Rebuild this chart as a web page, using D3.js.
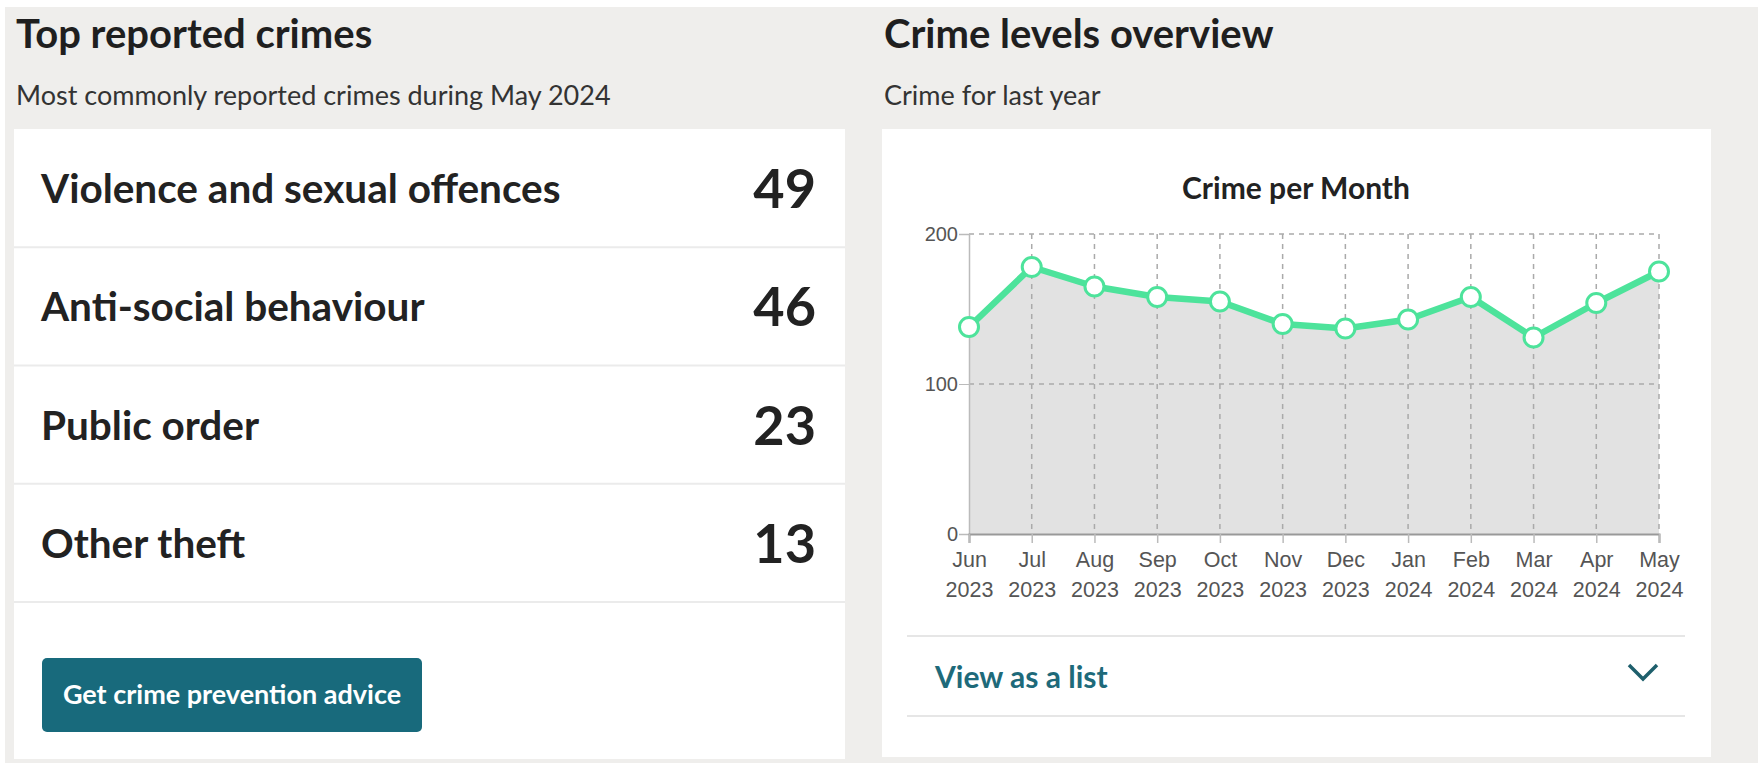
<!DOCTYPE html>
<html>
<head>
<meta charset="utf-8">
<script src="https://cdn.jsdelivr.net/npm/d3@7"></script>
<style>
  html, body { margin:0; padding:0; background:#fff; }
  svg { display:block; }
</style>
</head>
<body>
<div id="plot"></div>
<script>
// data
var crimeTypes = ['Violence and sexual offences','Anti-social behaviour','Public order','Other theft'];
var crimeCounts = [49, 46, 23, 13];

var months = ['Jun','Jul','Aug','Sep','Oct','Nov','Dec','Jan','Feb','Mar','Apr','May'];
var years = ['2023','2023','2023','2023','2023','2023','2023','2024','2024','2024','2024','2024'];
var monthlyTotals = [138, 178, 165, 158, 155, 140, 137, 143, 158, 131, 154, 175];
var yTicks = [0, 100, 200];

var width = 1758, height = 763;
var teal = '#186a7c', green = '#4de39b';

var svg = d3.select('#plot')
  .append('svg')
  .attr('width', width)
  .attr('height', height)
  .style('font-family', 'Lato, sans-serif');

// page background
svg.append('rect')
  .attr('x', 5).attr('y', 7)
  .attr('width', width).attr('height', height)
  .style('fill', '#efeeec');

// ---------- left panel ----------
svg.append('text')
  .attr('x', 16).attr('y', 48)
  .style('font-size', '40px').style('font-weight', 700).style('fill', '#1f1f1f')
  .text('Top reported crimes');
svg.append('text')
  .attr('x', 16).attr('y', 105)
  .style('font-size', '27px').style('fill', '#333')
  .text('Most commonly reported crimes during May 2024');

svg.append('rect')
  .attr('x', 14).attr('y', 129)
  .attr('width', 831).attr('height', 630)
  .style('fill', '#fff');

var rowScale = d3.scaleBand()
  .domain(crimeTypes)
  .range([129, 602]);

var rows = svg.selectAll('.row')
  .data(crimeTypes)
  .enter()
  .append('g')
  .attr('class', 'row')
  .attr('transform', function(d){ return 'translate(0,' + rowScale(d) + ')'; });

rows.append('line')
  .attr('x1', 14).attr('x2', 845)
  .attr('y1', rowScale.bandwidth()).attr('y2', rowScale.bandwidth())
  .style('stroke', '#ebebeb').style('stroke-width', 2);

rows.append('text')
  .attr('x', 41)
  .attr('y', rowScale.bandwidth() / 2 + 15)
  .style('font-size', '40.5px').style('font-weight', 700).style('fill', '#222')
  .text(function(d){ return d; });

rows.append('text')
  .attr('x', 816)
  .attr('y', rowScale.bandwidth() / 2 + 20)
  .attr('text-anchor', 'end')
  .style('font-size', '54px').style('font-weight', 700).style('fill', '#222')
  .text(function(d, i){ return crimeCounts[i]; });

// button
svg.append('rect')
  .attr('x', 42).attr('y', 658)
  .attr('width', 380).attr('height', 74)
  .attr('rx', 5)
  .style('fill', teal);
svg.append('text')
  .attr('x', 232).attr('y', 704)
  .attr('text-anchor', 'middle')
  .style('font-size', '27px').style('font-weight', 700).style('fill', '#fff')
  .text('Get crime prevention advice');

// ---------- right panel ----------
svg.append('text')
  .attr('x', 884).attr('y', 48)
  .style('font-size', '40px').style('font-weight', 700).style('fill', '#1f1f1f')
  .text('Crime levels overview');
svg.append('text')
  .attr('x', 884).attr('y', 105)
  .style('font-size', '27px').style('fill', '#333')
  .text('Crime for last year');

svg.append('rect')
  .attr('x', 882).attr('y', 129)
  .attr('width', 829).attr('height', 628)
  .style('fill', '#fff');

svg.append('text')
  .attr('x', 1296).attr('y', 199)
  .attr('text-anchor', 'middle')
  .style('font-size', '30px').style('font-weight', 700).style('fill', '#222')
  .text('Crime per Month');

var x = d3.scalePoint()
  .domain(d3.range(months.length))
  .range([969, 1659]);
var y = d3.scaleLinear()
  .domain([0, 200])
  .range([534, 234]);

var chart = svg.append('g');

// area under the line
var area = d3.area()
  .x(function(d, i){ return x(i); })
  .y0(y(0))
  .y1(function(d){ return y(d); });
chart.append('path')
  .datum(monthlyTotals)
  .attr('d', area)
  .style('fill', '#e2e2e2');

// dashed grid
chart.selectAll('.hgrid')
  .data(yTicks.filter(function(t){ return t > 0; }))
  .enter().append('line')
  .attr('x1', x(0)).attr('x2', x(months.length - 1))
  .attr('y1', function(d){ return y(d); })
  .attr('y2', function(d){ return y(d); })
  .style('stroke', '#aaa').style('stroke-width', 1.5)
  .style('stroke-dasharray', '5,5');
chart.selectAll('.vgrid')
  .data(d3.range(1, months.length))
  .enter().append('line')
  .attr('x1', function(d){ return x(d); })
  .attr('x2', function(d){ return x(d); })
  .attr('y1', y(200)).attr('y2', y(0))
  .style('stroke', '#aaa').style('stroke-width', 1.5)
  .style('stroke-dasharray', '5,5');

// y axis
var yAxis = chart.append('g')
  .attr('transform', 'translate(' + x(0) + ',0)')
  .call(d3.axisLeft(y).tickValues(yTicks).tickSize(10).tickPadding(1));
yAxis.select('.domain').style('stroke', '#bbb').style('stroke-width', 1.5);
yAxis.selectAll('line').style('stroke', '#bbb');
yAxis.selectAll('text')
  .style('font-family', '"Liberation Sans", Arial, sans-serif')
  .style('font-size', '20px').style('fill', '#555');

// x axis with two-line labels
var xAxis = chart.append('g')
  .attr('transform', 'translate(0,' + y(0) + ')')
  .call(d3.axisBottom(x).tickSize(9).tickFormat(''));
xAxis.select('.domain').style('stroke', '#999').style('stroke-width', 2);
xAxis.selectAll('.tick line').style('stroke', '#bbb').style('stroke-width', 1.5);
xAxis.selectAll('.tick')
  .append('text')
  .attr('y', 33)
  .text(function(d){ return months[d]; });
xAxis.selectAll('.tick')
  .append('text')
  .attr('y', 63)
  .text(function(d){ return years[d]; });
xAxis.selectAll('.tick text')
  .attr('text-anchor', 'middle')
  .style('font-family', '"Liberation Sans", Arial, sans-serif')
  .style('font-size', '21.5px').style('fill', '#555');

// line and markers
var line = d3.line()
  .x(function(d, i){ return x(i); })
  .y(function(d){ return y(d); });
chart.append('path')
  .datum(monthlyTotals)
  .attr('d', line)
  .style('fill', 'none')
  .style('stroke', green).style('stroke-width', 6.5)
  .style('stroke-linejoin', 'round');
chart.selectAll('.dot')
  .data(monthlyTotals)
  .enter().append('circle')
  .attr('cx', function(d, i){ return x(i); })
  .attr('cy', function(d){ return y(d); })
  .attr('r', 9.5)
  .style('fill', '#fff')
  .style('stroke', green).style('stroke-width', 3);

// view as a list
svg.selectAll('.sep')
  .data([636, 716])
  .enter().append('line')
  .attr('x1', 907).attr('x2', 1685)
  .attr('y1', function(d){ return d; }).attr('y2', function(d){ return d; })
  .style('stroke', '#e6e6e6').style('stroke-width', 2);
svg.append('text')
  .attr('x', 935).attr('y', 688)
  .style('font-size', '30px').style('font-weight', 700).style('fill', '#1e6a7a')
  .text('View as a list');
svg.append('path')
  .attr('d', 'M1629,665 L1643,679 L1657,665')
  .style('fill', 'none')
  .style('stroke', '#1e5f6c').style('stroke-width', 3.5);
</script>
</body>
</html>
